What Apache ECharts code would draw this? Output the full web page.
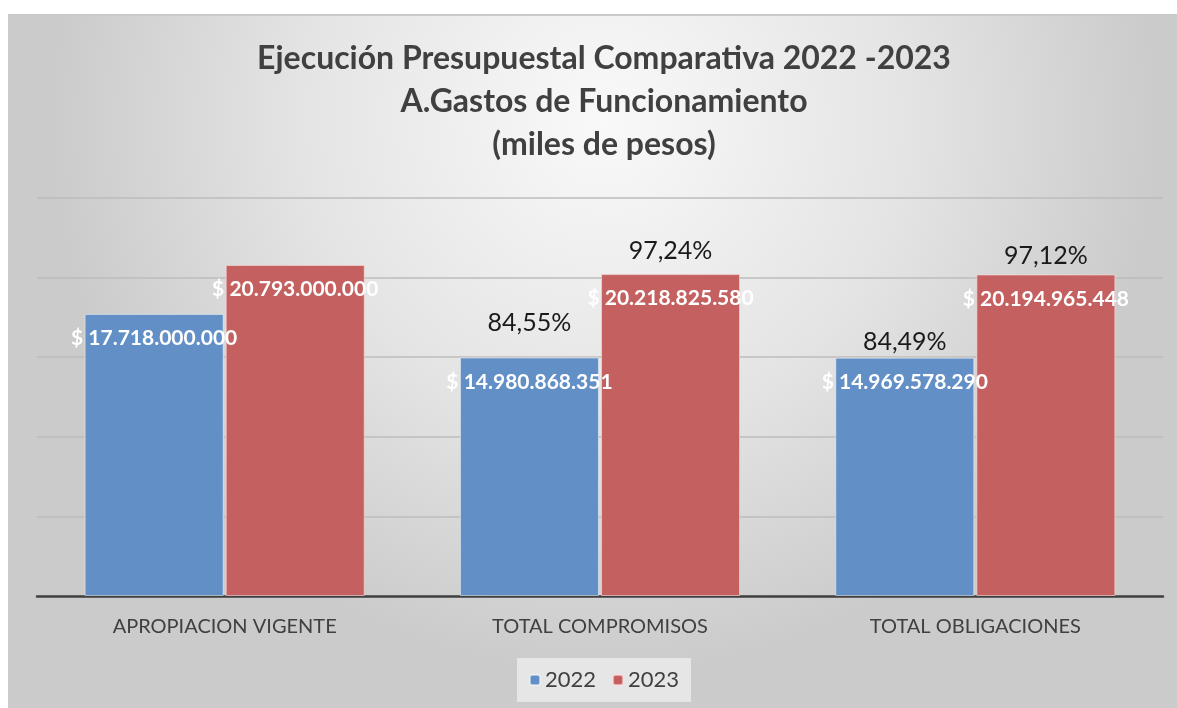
<!DOCTYPE html>
<html>
<head>
<meta charset="utf-8">
<script src="https://cdn.jsdelivr.net/npm/echarts@6/dist/echarts.min.js"></script>
<style>
  html, body { margin: 0; padding: 0; background: #fff; overflow: hidden; }
  #chart {
    position: absolute; left: 8px; top: 14px; width: 1192px; height: 694px;
    border-top: 2px solid #c9c9c9; box-sizing: border-box;
  }
</style>
</head>
<body>
<div id="chart"></div>
<script>
const categories = ["APROPIACION VIGENTE", "TOTAL COMPROMISOS", "TOTAL OBLIGACIONES"];
const values2022 = [17718000000, 14980868351, 14969578290];
const values2023 = [20793000000, 20218825580, 20194965448];
const pct2022 = ["", "84,55%", "84,49%"];
const pct2023 = ["", "97,24%", "97,12%"];
const pctOffset2022 = [0, -35, -16];
const pctOffset2023 = [0, -23, -19];

const fmt = (v) => "$ " + String(v).replace(/\B(?=(\d{3})+(?!\d))/g, ".");

function pctMarks(values, pcts, offsets) {
  return pcts
    .map((p, i) => ({ name: p, coord: [categories[i], values[i]], label: { offset: [0, offsets[i]] } }))
    .filter((d) => d.name !== "");
}

function barSeries(name, values, pcts, offsets, color, borderColor) {
  return {
    name,
    type: "bar",
    barWidth: 139,
    barGap: "1.5%",
    data: values,
    itemStyle: { color, borderColor, borderWidth: 1 },
    label: {
      show: true,
      position: "insideTop",
      distance: 14,
      formatter: ({ value }) => fmt(value),
      color: "#fff",
      fontFamily: "Lato",
      fontWeight: "bold",
      fontSize: 21,
    },
    markPoint: {
      symbol: "rect",
      symbolSize: 1,
      itemStyle: { color: "transparent" },
      label: {
        show: true,
        position: "inside",
        formatter: "{b}",
        color: "#1a1a1a",
        fontFamily: "Lato",
        fontSize: 25,
      },
      data: pctMarks(values, pcts, offsets),
    },
  };
}

const chart = echarts.init(document.getElementById("chart"), null, { renderer: "canvas" });
chart.setOption({
  animation: false,
  backgroundColor: {
    type: "radial", x: 0.5, y: 0.15, r: 0.8,
    colorStops: [
      { offset: 0, color: "#f9f9f9" },
      { offset: 0.55, color: "#e4e4e4" },
      { offset: 1, color: "#cbcbcb" },
    ],
  },
  title: {
    text: "Ejecución Presupuestal Comparativa 2022 -2023\nA.Gastos de Funcionamiento\n(miles de pesos)",
    left: "center",
    top: 16,
    textStyle: {
      fontFamily: "Lato",
      fontWeight: "bold",
      fontSize: 32,
      lineHeight: 43,
      color: "#404040",
    },
  },
  legend: {
    bottom: 6,
    left: "center",
    itemWidth: 10,
    itemHeight: 10,
    itemGap: 16,
    padding: [11, 12],
    backgroundColor: "rgba(236,236,236,0.8)",
    textStyle: { fontFamily: "Lato", fontSize: 22, color: "#404040" },
    data: ["2022", "2023"],
  },
  grid: { left: 29, right: 37, top: 182, height: 398, containLabel: false },
  xAxis: {
    type: "category",
    data: categories,
    axisTick: { show: false },
    axisLine: { lineStyle: { color: "#404040", width: 2.5 } },
    axisLabel: { color: "#404040", fontFamily: "Lato", fontSize: 20, margin: 21 },
  },
  yAxis: {
    type: "value",
    min: 0,
    max: 25000000000,
    interval: 5000000000,
    axisLabel: { show: false },
    axisLine: { show: false },
    axisTick: { show: false },
    splitLine: { lineStyle: { color: "#bdbdbd", width: 1.5 } },
  },
  series: [
    barSeries("2022", values2022, pct2022, pctOffset2022, "#6290c6", "rgba(255,255,255,0.45)"),
    barSeries("2023", values2023, pct2023, pctOffset2023, "#c46160", "rgba(255,220,220,0.6)"),
  ],
});
</script>
</body>
</html>
